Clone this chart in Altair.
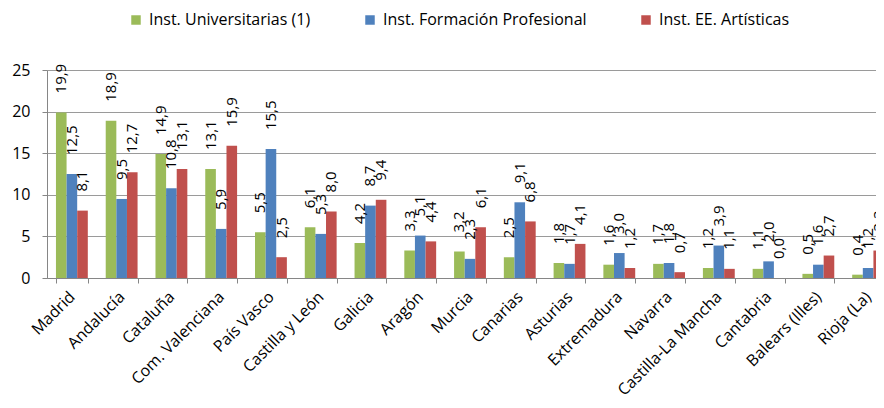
import altair as alt
import pandas as pd

regions = ["Madrid", "Andalucía", "Cataluña", "Com. Valenciana", "País Vasco",
           "Castilla y León", "Galicia", "Aragón", "Murcia", "Canarias", "Asturias",
           "Extremadura", "Navarra", "Castilla-La Mancha", "Cantabria",
           "Balears (Illes)", "Rioja (La)"]
series = ["Inst. Universitarias (1)", "Inst. Formación Profesional", "Inst. EE. Artísticas"]
univ = [19.9, 18.9, 14.9, 13.1, 5.5, 6.1, 4.2, 3.3, 3.2, 2.5, 1.8, 1.6, 1.7, 1.2, 1.1, 0.5, 0.4]
fp = [12.5, 9.5, 10.8, 5.9, 15.5, 5.3, 8.7, 5.1, 2.3, 9.1, 1.7, 3.0, 1.8, 3.9, 2.0, 1.6, 1.2]
art = [8.1, 12.7, 13.1, 15.9, 2.5, 8.0, 9.4, 4.4, 6.1, 6.8, 4.1, 1.2, 0.7, 1.1, 0.0, 2.7, 3.3]
colors = ["#9BBB59", "#4F81BD", "#C0504D"]

rows = []
for s, vals in zip(series, [univ, fp, art]):
    for r, v in zip(regions, vals):
        rows.append({"region": r, "serie": s, "value": v,
                     "label": f"{v:.1f}".replace(".", ",")})
df = pd.DataFrame(rows)

FONT = "Open Sans"

x = alt.X("region:N", sort=regions, title=None,
          scale=alt.Scale(range=[0, 846], paddingInner=0.36, paddingOuter=0.18),
          axis=alt.Axis(labelAngle=-45, labelFontSize=16, labelColor="#000000",
                        labelFont=FONT, tickBand="extent", tickSize=5,
                        labelAlign="right", labelBaseline="middle",
                        tickColor="#868686", domainColor="#868686",
                        labelPadding=11, labelLimit=0, grid=False))
xo = alt.XOffset("serie:N", sort=series)
y = alt.Y("value:Q", title=None,
          scale=alt.Scale(domain=[0, 25], nice=False),
          axis=alt.Axis(values=[0, 5, 10, 15, 20, 25], labelFontSize=16,
                        labelColor="#000000", labelFont=FONT, tickSize=5,
                        tickColor="#868686", domainColor="#868686",
                        gridColor="#9a9a9a", labelPadding=12))

bars = alt.Chart(df).mark_bar().encode(
    x=x, xOffset=xo, y=y,
    color=alt.Color("serie:N", sort=series,
                    scale=alt.Scale(domain=series, range=colors),
                    legend=alt.Legend(title=None, orient="none", direction="horizontal",
                                      columns=3, legendX=81, legendY=-58,
                                      symbolType="square", symbolSize=90,
                                      symbolStrokeWidth=0, labelFontSize=16,
                                      labelFont=FONT, labelColor="#000000",
                                      labelLimit=0,
                                      columnPadding=51, labelOffset=5))
)

labels = alt.Chart(df).mark_text(angle=270, align="left", baseline="middle", dx=19,
                                 fontSize=15, font=FONT, color="#000000").encode(
    x=x, xOffset=xo, y=y, text="label:N"
)

chart = (bars + labels).properties(
    width=829, height=208, autosize="none",
    padding={"left": 39, "top": 62, "right": 0, "bottom": 122}
).configure_view(stroke=None).configure(background="#ffffff")

chart.save("out.html", embed_options={"renderer": "svg", "actions": False})
